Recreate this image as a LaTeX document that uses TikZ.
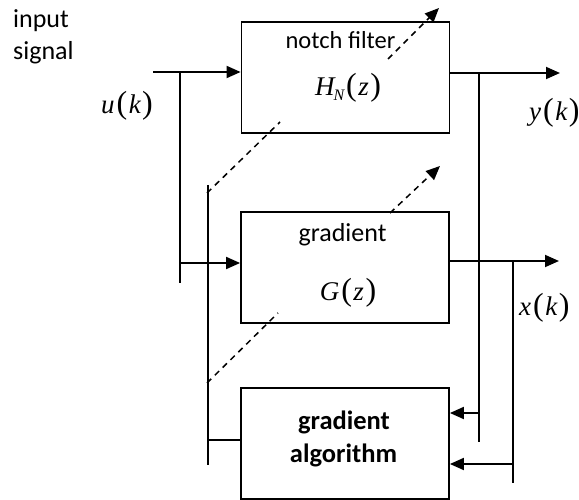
\documentclass[tikz,border=0pt]{standalone}
\usepackage{fontspec}
\setmainfont{Carlito}
\newfontfamily\tms{Liberation Serif}
\usetikzlibrary{arrows.meta}
\newcommand\paren[1]{{\upshape\fontsize{32}{32}\selectfont#1}}
\newcommand\mlbl[2]{{\tms\fontsize{27}{27}\selectfont\itshape #1\kern2pt\paren{(}\kern1.5pt#2\kern1.5pt\paren{)}}}
\begin{document}
\begin{tikzpicture}[x=1pt,y=-1pt,
  wire/.style={line width=1.8pt},
  arr/.style={wire,-{Triangle[length=14pt,width=12pt]}},
  dsh/.style={line width=1.5pt,dash pattern=on 6pt off 5pt},
  dsha/.style={dsh,-{Triangle[length=14pt,width=12pt]}},
  blk/.style={draw,line width=1.8pt,fill=white,minimum width=208pt,minimum height=111pt,inner sep=0pt},
  txt/.style={font=\fontsize{26}{26}\selectfont,inner sep=0pt,anchor=base},
  lbl/.style={inner sep=0pt}]
\useasboundingbox (0,0) rectangle (579,500);
% blocks
\node[blk] (notch) at (345.5,77.5) {};
\node[blk] (grad) at (345,267.5) {};
\node[blk] (algo) at (345,443.5) {};
% block texts
\node[txt,font=\fontsize{24.5}{24.5}\selectfont] (t1) at (340.5,49) {notch filter};
\node[lbl] (hn) at (348,88) {\tms\fontsize{27}{27}\selectfont\itshape H\kern-1pt\lower5pt\hbox{\fontsize{16}{16}\selectfont N}\kern2pt\paren{(}\kern1.5pt z\kern1.5pt\paren{)}};
\node[txt] (t2) at (342.5,242) {gradient};
\node[lbl] (gz) at (348,293) {\mlbl{G}{z}};
\node[txt,font=\fontsize{26.5}{26.5}\selectfont\bfseries] (t3) at (344,429) {gradient};
\node[txt,font=\fontsize{26.5}{26.5}\selectfont\bfseries] (t4) at (343.5,462) {algorithm};
% outside labels
\node[txt,anchor=base west] (in1) at (13,28) {input};
\node[txt,anchor=base west] (in2) at (13,60) {signal};
\node[lbl] (uk) at (127,106) {\mlbl{u}{k}};
\node[lbl,anchor=west] (yk) at (529,113) {\mlbl{y}{k}};
\node[lbl,anchor=west] (xk) at (519,308) {\mlbl{x}{k}};
% dashed adjustment arrows (middle part hidden)
\coordinate (d1s) at (207,193);
\coordinate (d1m) at (280,122);
\coordinate (d1n) at (388,59);
\coordinate (d1e) at (439,8);
\coordinate (d2s) at (207,383);
\coordinate (d2m) at (278,313);
\coordinate (d2n) at (390,213);
\coordinate (d2e) at (440,166);
\draw[dsh] (d1s) -- (d1m);
\draw[dsha] (d1n) -- (d1e);
\draw[dsh] (d2s) -- (d2m);
\draw[dsha] (d2n) -- (d2e);
% input side
\coordinate (uin) at (153,72);
\coordinate (v1t) at (180,72);
\coordinate (v1b) at (180,283);
\coordinate (h2s) at (179,263);
\coordinate (v2t) at (208,185);
\coordinate (v2b) at (208,465);
\coordinate (h3s) at (208,440);
\draw[arr] (uin) -- (uin -| notch.west);
\draw[wire] (v1t) -- (v1b);
\draw[arr] (h2s) -- (h2s -| grad.west);
\draw[wire] (v2t) -- (v2b);
\draw[wire] (h3s) -- (h3s -| algo.west);
% output side
\coordinate (yo) at (560,73);
\coordinate (v3t) at (479,73);
\coordinate (v3b) at (479,442);
\coordinate (h4) at (479,413);
\coordinate (xo) at (559,261);
\coordinate (v4t) at (513,261);
\coordinate (v4b) at (513,483);
\coordinate (h5) at (513,464);
\draw[arr] (yo -| notch.east) -- (yo);
\draw[wire] (v3t) -- (v3b);
\draw[arr] (h4) -- (h4 -| algo.east);
\draw[arr] (xo -| grad.east) -- (xo);
\draw[wire] (v4t) -- (v4b);
\draw[arr] (h5) -- (h5 -| algo.east);
\end{tikzpicture}
\end{document}
